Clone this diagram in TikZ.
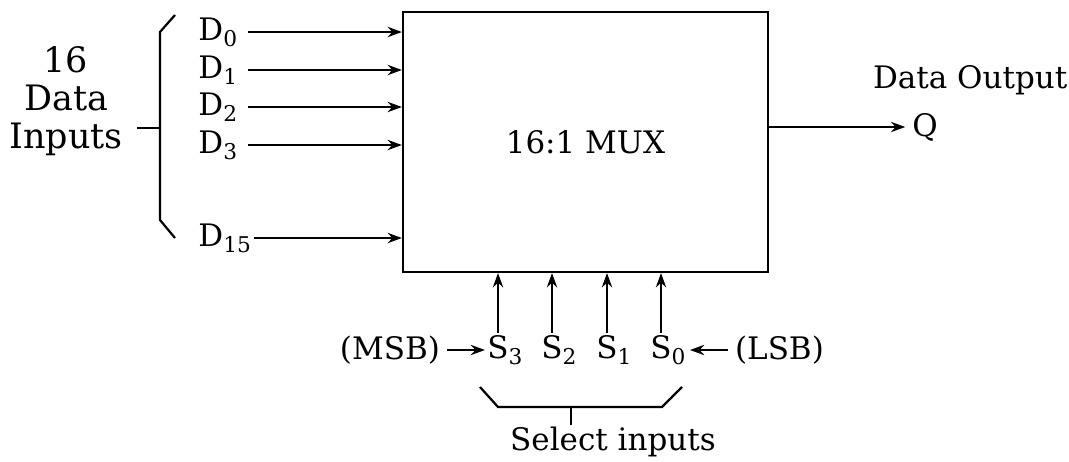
\documentclass[tikz,border=0pt]{standalone}
\usepackage{fontspec}
\setmainfont{DejaVu Serif}
\usetikzlibrary{arrows.meta, positioning, calc}

\begin{document}
\begin{tikzpicture}[
    x=0.5pt, y=-0.5pt,
    font=\fontsize{15.5}{18.5}\selectfont,
    muxbox/.style={draw, line width=1.1pt, minimum width=182.5pt, minimum height=130pt},
    datain/.style={anchor=west, inner sep=1pt},
    selin/.style={inner sep=1pt},
    arrow/.style={-{Stealth[length=2.5mm, width=1.8mm]}, line width=1.1pt},
    bracket/.style={line width=1.1pt},
]
\useasboundingbox (0,0) rectangle (1069,461);

% Multiplexer block
\node[muxbox] (mux) at (585.5,142) {16:1 MUX};

% Data inputs
\node[datain] (d0) at (196,32) {D\textsubscript{0}};
\node[datain] (d1) at (196,70) {D\textsubscript{1}};
\node[datain] (d2) at (196,107) {D\textsubscript{2}};
\node[datain] (d3) at (196,145) {D\textsubscript{3}};
\node[datain] (d15) at (196,238) {D\textsubscript{15}};

\draw[arrow] (d0.east) ++(8,0) -- (d0.east -| mux.west);
\draw[arrow] (d1.east) ++(8,0) -- (d1.east -| mux.west);
\draw[arrow] (d2.east) ++(8,0) -- (d2.east -| mux.west);
\draw[arrow] (d3.east) ++(8,0) -- (d3.east -| mux.west);
\draw[arrow] (d15.east) -- (d15.east -| mux.west);

% Left bracket
\draw[bracket] (175,15) -- (160,32) -- (160,220) -- (175,238);
\draw[bracket] (160,128) -- (137,128);
\node[align=center, font=\fontsize{17.5}{19}\selectfont] (datalbl) at (66,101) {16\\Data\\Inputs};

% Output
\node (q) at (925,127) {Q};
\node[anchor=west] (outlbl) at (866,80) {Data Output};
\draw[arrow] (mux.east |- q) -- (q.west);

% Select inputs
\node[selin] (s3) at (498,350) {S\rlap{\textsubscript{3}}};
\node[selin] (s2) at (552,350) {S\rlap{\textsubscript{2}}};
\node[selin] (s1) at (607,350) {S\rlap{\textsubscript{1}}};
\node[selin] (s0) at (661,350) {S\rlap{\textsubscript{0}}};
\foreach \s in {s3,s2,s1,s0}
  \draw[arrow] (\s.north) -- (\s.north |- mux.south);

\node[anchor=east] (msb) at (447,350) {(MSB)};
\node[anchor=west] (lsb) at (728,350) {(LSB)};
\coordinate (s0r) at (690,350);
\draw[arrow] (msb.east) -- (s3.west);
\draw[arrow] (lsb.west) -- (s0r);

% Bottom bracket
\draw[bracket] (480,387) -- (498,407) -- (662,407) -- (682,387);
\draw[bracket] (571,407) -- (571,425);
\node (sellbl) at (613,442) {Select inputs};

\end{tikzpicture}
\end{document}
